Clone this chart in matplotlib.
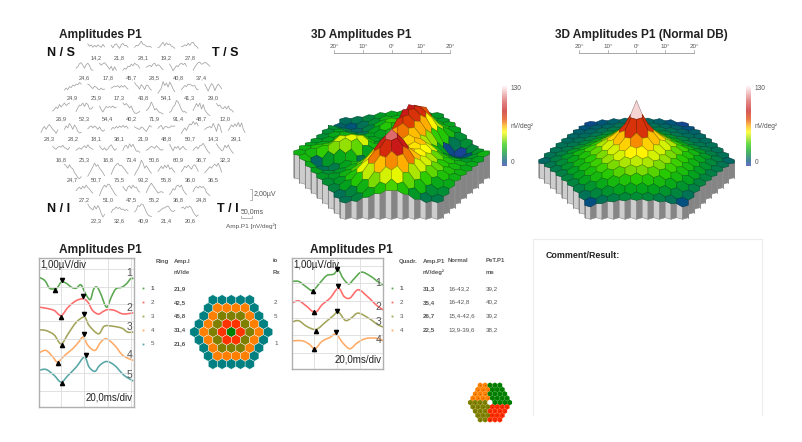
import numpy as np
import matplotlib
matplotlib.use('Agg')
import matplotlib.pyplot as plt
from matplotlib.collections import PolyCollection
from matplotlib.colors import LinearSegmentedColormap, to_rgb
from matplotlib.patches import PathPatch
from matplotlib.path import Path

plt.rcParams['font.family'] = ['Liberation Sans', 'DejaVu Sans']

# --- trace array: P1 amplitude labels, per row
amp_rows = [
    [14.2, 21.8, 28.1, 19.2, 27.8],
    [24.6, 17.8, 45.7, 28.5, 40.8, 37.4],
    [24.9, 25.9, 17.3, 43.8, 54.1, 41.3, 29.0],
    [26.9, 52.3, 54.4, 40.2, 71.9, 91.4, 48.7, 12.0],
    [28.3, 28.2, 18.1, 38.1, 21.9, 48.8, 50.7, 14.3, 29.1],
    [16.8, 25.3, 16.8, 73.4, 50.6, 60.9, 36.7, 32.3],
    [24.7, 50.7, 75.5, 93.2, 55.8, 36.0, 36.5],
    [27.2, 51.0, 47.5, 55.2, 36.8, 24.8],
    [22.3, 32.6, 40.9, 21.4, 20.6],
]

# small responses, uV, one row per stimulus hexagon, sampled every 8 ms
small_t = [0, 8, 16, 24, 32, 40, 48, 56, 64, 72, 80]
small_traces = [
    [0.6, 0.1, 0.4, -0.1, 0.3, 0.0, 0.4, 0.1, -0.1, 0.5, 0.0],
    [0.3, -0.2, 0.4, 0.6, 0.1, -0.3, 0.4, 0.7, 0.2, 0.3, -0.1],
    [-0.1, 0.3, 0.2, 0.6, 1.1, 0.5, 0.4, 0.1, 0.0, 0.1, -0.1],
    [-0.2, 0.0, 0.5, 0.9, 0.2, 0.8, 0.4, 0.6, 0.1, 0.0, -0.3],
    [0.0, 0.1, 0.4, 0.2, 0.7, 0.3, 0.8, 0.9, 0.3, 0.1, -0.3],

    [-0.2, 0.1, 0.7, 0.9, 0.4, -0.2, 0.5, 0.8, 0.3, -0.5, -0.6],
    [0.8, 0.4, 0.7, 0.9, 0.5, 0.1, -0.4, 0.2, -0.7, 0.1, -0.6],
    [-0.6, -0.2, -0.4, 0.2, 0.1, 0.6, 0.3, 0.8, 0.5, 0.4, -0.2],
    [0.0, 0.2, 0.4, 0.1, 0.6, 0.8, 0.2, 0.5, 0.3, -0.2, -0.5],
    [0.6, 0.0, -0.7, -0.2, 0.3, 0.1, 0.6, 0.8, 0.5, 0.8, 0.2],
    [-0.6, 0.0, 0.5, 0.9, 1.0, 0.6, 0.7, 1.0, 0.8, 0.5, 0.2],

    [-0.5, -0.1, -0.4, 0.2, 0.0, 0.5, 0.3, 0.7, 0.6, 1.0, 0.7],
    [0.7, 0.5, 0.1, -0.2, 0.3, 0.1, -0.3, -0.4, -0.1, -0.4, -0.3],
    [-0.1, 0.1, 0.3, 0.2, 0.4, 0.0, 0.4, 0.1, 0.4, 0.0, -0.3],
    [1.0, 0.5, 0.2, -0.3, 0.6, 0.2, -0.4, 0.5, 0.4, -0.2, -0.5],
    [-1.1, -0.6, -0.1, 1.2, 0.4, 0.9, 0.1, 1.1, 0.5, -0.3, -0.8],
    [-0.4, 0.0, 0.4, 0.2, 0.7, 0.6, 0.5, 0.3, 0.4, -0.3, -0.4],
    [0.7, 0.0, -0.7, 0.1, 0.8, 0.4, -0.6, 0.2, 0.7, 0.3, -0.2],

    [-0.6, -0.3, 0.2, -0.1, 0.7, 0.2, 0.6, 1.0, 0.5, 0.8, 1.0],
    [-0.7, 0.0, 0.6, 0.5, 1.0, 0.3, 1.0, 0.7, -0.2, -0.2, 0.2],
    [0.4, -0.3, -0.8, -0.2, 0.3, 0.1, 0.3, 0.1, 0.4, 0.0, 0.2],
    [1.0, 0.6, 0.9, 0.5, 0.0, 0.4, -0.5, -1.0, -1.1, -0.9, -0.7],
    [-0.5, -0.2, 0.3, 1.2, 0.5, -0.4, -0.1, -0.6, -0.9, -1.0, -1.2],
    [-0.9, -0.6, 0.2, 0.5, 1.5, 1.2, 0.5, -0.3, -0.8, -0.7, -1.0],
    [-0.5, 0.2, 0.9, 0.3, 1.0, -0.2, 0.7, -0.4, -0.9, -1.3, -1.5],
    [0.9, 0.4, 0.6, 0.0, -0.1, 0.3, -0.2, 0.4, -0.3, -0.4, -0.8],

    [-0.8, -0.1, 0.4, -0.2, 0.4, 0.8, 0.3, -0.2, -0.5, -1.0, -0.3],
    [-0.2, 0.5, 0.1, 1.0, 0.5, -0.2, 0.7, 0.2, -0.6, -0.9, -0.8],
    [-0.1, 0.3, 0.5, 0.1, 0.5, 0.2, -0.2, 0.3, -0.3, -0.6, -0.3],
    [-0.2, 0.2, 0.0, 0.4, 0.1, 0.5, 0.2, 0.6, 0.2, 0.5, 0.0],
    [0.3, 0.1, -0.1, -0.2, 0.3, 0.1, -0.3, -0.6, 0.0, 0.6, 0.3],
    [0.0, 0.4, 0.6, -0.2, 0.3, 0.4, 0.1, 0.2, 0.5, 0.4, 0.5],
    [-1.0, -0.4, 0.1, -0.4, 0.3, 0.9, 0.7, 1.4, 0.8, 1.2, 0.5],
    [-0.2, 0.1, 0.2, 0.4, 0.1, 1.0, 0.3, -0.6, 0.9, 0.5, -0.8],
    [-0.4, 0.1, 0.7, 0.3, 0.9, 0.4, 1.2, 0.3, 1.1, -0.2, -0.8],

    [0.5, 0.1, -0.1, 0.3, 0.5, 0.3, 0.7, 0.2, 0.1, -0.2, 0.3],
    [-0.3, 0.0, 0.2, -0.1, 0.3, 0.6, 0.2, 0.8, 0.3, 0.1, -0.1],
    [0.6, 0.1, -0.2, 0.2, -0.3, 0.0, 0.5, 0.8, 0.2, -0.3, 0.0],
    [-0.3, 0.5, 0.7, 0.1, 1.0, 0.4, 0.9, 0.2, -0.5, -0.4, -0.7],
    [-0.3, -0.1, 0.2, 0.5, 0.3, 0.1, 0.6, 0.3, -0.1, -0.3, -0.1],
    [0.9, 0.2, -0.4, 0.4, 0.1, 0.5, -0.2, 0.2, 0.5, 0.0, -0.2],
    [-0.3, 0.1, 0.4, 0.0, 0.6, 0.7, 1.1, 0.5, -0.1, -0.6, -0.9],
    [1.0, 0.4, 0.1, -0.4, -0.2, 0.7, 0.2, 0.8, 0.0, -0.5, -0.9],

    [1.0, 0.7, 0.2, 0.9, 0.3, 0.1, -0.7, -1.1, -1.7, -1.9, -1.5],
    [-1.4, -0.8, -0.2, 0.5, 1.2, 0.6, 0.9, 0.2, -0.2, -0.7, -1.3],
    [-1.0, -0.2, 0.5, 0.9, 1.2, 0.7, 0.8, 0.4, 0.0, -0.5, -0.9],
    [-1.2, -0.5, 0.0, 0.7, 1.8, 1.2, 0.2, 0.7, 0.2, -0.4, -0.8],
    [-0.4, 0.1, 0.6, 0.1, 0.8, 0.3, 0.9, 0.0, 0.3, -0.2, -0.6],
    [-0.5, 0.0, 0.6, 0.3, 0.8, 0.4, 0.0, 0.7, 0.9, 0.3, -0.4],
    [-0.7, -0.3, 0.1, 0.5, 0.2, 0.7, 1.0, 0.6, 1.2, 0.4, -0.6],

    [-0.2, 0.2, 0.5, 0.1, 0.7, 0.3, 0.9, 0.4, 0.1, -0.4, -0.7],
    [-1.2, -0.3, 0.4, 0.9, 0.5, 1.1, 1.0, 0.3, -0.2, -0.8, -1.2],
    [0.6, 0.1, -0.3, 0.5, 0.8, 0.2, 0.9, 0.4, 0.5, -0.2, -0.5],
    [-0.6, 0.2, 0.8, 1.3, 0.8, 0.3, -0.2, -0.7, -0.5, -0.4, -0.6],
    [-1.0, -0.5, 0.2, -0.1, 0.7, 0.9, 0.5, 0.9, -0.1, -0.6, -1.0],
    [-0.4, 0.3, 0.6, 0.3, 0.7, 0.4, 0.6, 0.2, -0.6, -0.9, -1.2],

    [1.2, 0.6, 0.3, 0.0, 0.8, 0.2, 0.9, 0.3, -0.7, -1.4, -0.9],
    [-0.5, 0.1, 0.2, 0.6, 0.3, 0.5, 0.1, 0.2, -0.1, 0.1, -0.1],
    [-0.4, 0.0, 0.9, 0.7, 1.2, 1.1, 0.4, -0.4, -1.0, -1.2, -1.3],
    [-0.4, -0.2, 0.1, 0.4, 0.4, 0.7, 0.8, 0.3, -0.2, -0.3, -0.1],
    [0.4, 0.6, 0.2, 0.7, 0.5, 0.8, 0.4, -0.4, -0.9, -1.3, -1.0],
]

# ring averages, ms / uV from the plot origin
ring_names = ['1', '2', '3', '4', '5']
ring_amp = ['21,9', '42,5', '45,8', '31,4', '21,6']
ring_t = [
    [0, 5, 9, 13, 16, 19, 23, 28, 32, 36, 40, 44, 47, 50, 53, 58, 62, 66, 71, 75, 79, 81],
    [0, 6, 13, 19, 25, 32, 38, 42, 46, 51, 55, 59, 65, 72, 81],
    [0, 6, 13, 19, 25, 32, 39, 43, 51, 56, 63, 71, 76, 81],
    [0, 6, 12, 16, 22, 29, 34, 38, 42, 48, 53, 58, 65, 72, 81],
    [0, 6, 13, 19, 25, 32, 39, 43, 48, 52, 58, 65, 73, 81],
]
ring_v = [
    [7.5, 7.31, 6.87, 6.83, 6.92, 7.21, 7.17, 6.92, 6.87, 7.06, 6.54, 6.21, 6.83, 6.92, 6.54, 5.77, 6.35, 6.83, 6.92, 7.12, 7.44, 7.4],
    [5.77, 5.71, 5.58, 5.29, 5.77, 6.15, 6.25, 6.06, 5.58, 5.37, 5.52, 5.63, 5.58, 5.38, 5.44],
    [4.46, 4.42, 4.17, 3.65, 4.23, 4.9, 5.19, 4.71, 4.23, 4.67, 4.67, 4.56, 4.33, 4.33],
    [3.13, 3.27, 2.88, 2.6, 2.98, 3.37, 3.75, 4.04, 3.56, 3.27, 3.75, 3.94, 3.56, 2.98, 2.69],
    [2.12, 2.17, 1.83, 1.44, 1.83, 2.31, 2.88, 2.31, 2.06, 2.4, 2.63, 2.4, 1.83, 1.5],
]
ring_trough = [(13.5, 6.75), (18.5, 5.2), (19.5, 3.6), (16.5, 2.55), (19.5, 1.4)]
ring_peak = [(19.5, 7.35), (37.5, 6.4), (39, 5.35), (39, 4.2), (40, 3.0)]
ring_other = ['', '2', '5', '', '1']

quad_names = ['1', '2', '3', '4']
quad_amp = ['31,3', '35,4', '26,7', '22,5']
quad_normal = ['16-43,2', '16-42,8', '15,4-42,6', '13,9-39,6']
quad_pet = ['39,2', '40,2', '39,2', '38,2']
quad_t = [
    [0, 6, 12, 18, 24, 30, 36, 40, 44, 49, 54, 60, 68, 75, 82.5],
    [0, 6, 12, 20, 26, 33, 40, 45, 50, 57, 65, 74, 82.5],
    [0, 6, 13, 21, 29, 35, 40, 46, 51, 57, 66, 75, 82.5],
    [0, 9, 15, 20, 26, 33, 38, 44, 50, 56, 63, 71, 77, 82.5],
]
quad_v = [
    [5.06, 5.06, 4.77, 4.54, 4.96, 5.4, 5.48, 5.73, 5.25, 4.92, 5.25, 5.6, 5.35, 5.0, 4.73],
    [3.81, 3.94, 3.67, 3.27, 3.71, 4.1, 4.67, 4.19, 4.1, 4.58, 4.19, 3.62, 3.27],
    [2.71, 2.79, 2.46, 2.29, 2.71, 3.04, 3.29, 2.81, 2.94, 3.23, 2.94, 2.52, 2.37],
    [1.63, 1.63, 1.44, 1.17, 1.6, 1.83, 2.02, 1.5, 1.17, 1.5, 1.75, 1.79, 1.69, 1.44],
]
quad_trough = [(18.5, 4.48), (19.5, 3.28), (20.5, 2.21), (19.5, 1.13)]
quad_peak = [(39, 5.77), (40, 4.77), (39, 3.37), (38, 2.12)]

# height of the 3D surfaces in nV/deg2, back row first
surf_left = [
    [13, 15, 18, 22, 25, 26, 27, 25, 22],
    [11, 9, 14, 20, 28, 27, 30, 28, 25, 22],
    [20, 15, 12, 17, 27, 36, 30, 46, 38, 28, 25],
    [20, 24, 18, 15, 24, 34, 30, 55, 65, 44, 30, 24],
    [20, 26, 28, 24, 24, 24, 28, 52, 78, 74, 46, 30, 20],
    [22, 24, 26, 30, 30, 24, 22, 46, 88, 82, 56, 34, 15, 20],
    [24, 26, 28, 36, 40, 34, 24, 46, 88, 80, 64, 36, 6, 4, 18],
    [28, 32, 36, 50, 52, 50, 30, 44, 80, 76, 64, 44, 24, 9, 8, 22],
    [28, 30, 36, 42, 44, 40, 24, 42, 66, 70, 62, 46, 30, 20, 18, 22, 28],
    [30, 12, 22, 26, 28, 15, 26, 40, 50, 60, 62, 50, 34, 26, 22, 24],
    [26, 14, 16, 24, 30, 38, 55, 62, 52, 58, 54, 40, 32, 28, 26],
    [24, 20, 22, 28, 40, 62, 85, 90, 62, 56, 46, 34, 30, 26],
    [22, 22, 28, 38, 56, 85, 107, 88, 62, 50, 40, 32, 28],
    [20, 22, 32, 52, 70, 82, 88, 70, 50, 40, 32, 28],
    [18, 24, 34, 48, 62, 68, 64, 46, 36, 26, 26],
    [14, 18, 28, 42, 50, 52, 40, 30, 20, 20],
    [15, 18, 26, 32, 38, 32, 22, 16, 16],
]
surf_normal = [
    [6, 9, 11, 12, 13, 12, 11, 9, 5],
    [9, 11, 12, 14, 15, 15, 14, 12, 11, 8],
    [11, 12, 14, 16, 18, 20, 18, 16, 14, 12, 11],
    [12, 13, 15, 18, 22, 26, 26, 22, 18, 15, 13, 12],
    [13, 14, 17, 21, 27, 34, 40, 34, 27, 21, 17, 14, 13],
    [14, 15, 18, 23, 30, 40, 50, 50, 40, 30, 23, 18, 15, 14],
    [14, 16, 20, 26, 34, 44, 56, 65, 56, 44, 34, 26, 20, 16, 14],
    [14, 17, 22, 28, 36, 46, 58, 80, 80, 58, 46, 36, 28, 22, 17, 14],
    [12, 17, 22, 29, 37, 46, 60, 80, 123, 80, 60, 46, 37, 29, 22, 17, 12],
    [15, 19, 25, 32, 40, 50, 62, 80, 80, 62, 50, 40, 32, 25, 19, 15],
    [16, 21, 28, 35, 42, 50, 60, 68, 60, 50, 42, 35, 28, 21, 16],
    [17, 23, 30, 37, 44, 50, 56, 56, 50, 44, 37, 30, 23, 17],
    [18, 24, 31, 37, 42, 46, 48, 46, 42, 37, 31, 24, 18],
    [18, 24, 30, 35, 39, 42, 42, 39, 35, 30, 24, 18],
    [17, 21, 26, 30, 33, 35, 33, 30, 26, 21, 17],
    [14, 18, 21, 24, 25, 25, 24, 21, 18, 14],
    [8, 14, 17, 19, 20, 19, 17, 14, 8],
]

scale_labels = ['20°', '10°', '0°', '10°', '20°']

ring_colors = ['#5aa84f', '#ff6a6a', '#a3a45a', '#ffab66', '#58a6a6']
ring_fill = ['#008000', '#ff3300', '#808000', '#ff8000', '#008080']
quad_fill = ['#008000', '#ff2a00', '#808000', '#ff8000']
TXT = '#555555'

cmap = LinearSegmentedColormap.from_list('mferg', [
    (0.00, '#2b3aa8'), (0.06, '#00507e'), (0.10, '#006e5a'), (0.18, '#00a020'),
    (0.27, '#28cc00'), (0.35, '#a8e400'), (0.42, '#ffff00'), (0.50, '#ffa800'),
    (0.58, '#e04000'), (0.68, '#c81818'), (0.80, '#d85858'), (0.90, '#eeaaaa'),
    (1.00, '#ffffff')])

fig = plt.figure(figsize=(8.03, 4.42), dpi=100)
# whole-figure axes, one unit is one pixel
ax = fig.add_axes([0, 0, 1, 1])
ax.set_xlim(0, 803)
ax.set_ylim(442, 0)
ax.axis('off')


def hexagon(x, y, w, r):
    return [(x, y - r), (x + w / 2, y - r / 2), (x + w / 2, y + r / 2),
            (x, y + r), (x - w / 2, y + r / 2), (x - w / 2, y - r / 2)]


def draw_surface(rows, cx, y0):
    w = 11.5
    dy = 5.0
    r = dy / 1.5
    k = 0.55
    base = 8.0
    corners = {}
    cells = []
    present = set()
    for i, row in enumerate(rows):
        for j, v in enumerate(row):
            x = cx + (j - (len(row) - 1) / 2) * w
            y = y0 + i * dy
            cells.append((x, y, v))
            present.add((round(x, 1), round(y, 1)))
            for p in hexagon(x, y, w, r):
                corners.setdefault((round(p[0], 1), round(p[1], 1)), []).append(v)

    polys, faces, edges = [], [], []
    for x, y, v in cells:
        pts = hexagon(x, y, w, r)
        top = []
        for p in pts:
            h = np.mean(corners[(round(p[0], 1), round(p[1], 1))])
            top.append((p[0], p[1] - base - k * h))
        # walls on the outside of the block
        sides = [(3, 4, (-w / 2, dy), '#cdcdcd'), (4, 5, (-w, 0), '#cdcdcd'),
                 (2, 3, (w / 2, dy), '#858585'), (1, 2, (w, 0), '#858585')]
        for a, b, off, col in sides:
            if (round(x + off[0], 1), round(y + off[1], 1)) not in present:
                polys.append([top[a], top[b], pts[b], pts[a]])
                faces.append(col)
                edges.append('#8a8a8a')
        apex = y - base - k * v
        if apex < top[0][1]:
            top[0] = (x, apex)
        col = cmap(v / 130)
        polys.append(top)
        faces.append(col)
        edges.append(tuple(np.array(to_rgb(col)) * 0.62))
    ax.add_collection(PolyCollection(polys, facecolors=faces, edgecolors=edges, linewidths=0.4))


def draw_scale(x0, x1, y):
    ax.plot([x0, x1], [y, y], color='#999999', lw=0.6)
    for lab, x in zip(scale_labels, np.linspace(x0, x1, 5)):
        ax.plot([x, x], [y - 3, y], color='#999999', lw=0.5)
        ax.text(x, y - 6.5, lab, ha='center', va='center', fontsize=4.5, color=TXT)


def draw_colorbar(x0, top, bottom):
    grad = np.linspace(1, 0, 256).reshape(-1, 1)
    ax.imshow(grad, cmap=cmap, extent=(x0, x0 + 5, bottom, top), aspect='auto', alpha=0.72, zorder=2)
    ax.text(x0 + 9, top + 3, '130', fontsize=4.8, color=TXT, va='center')
    ax.text(x0 + 9, top + 41, 'nV/deg²', fontsize=4.8, color=TXT, va='center')
    ax.text(x0 + 9, bottom - 3, '0', fontsize=4.8, color=TXT, va='center')


def smooth_line(pax, t, v, color):
    # bezier through the read points, so the line stays soft like the recording
    t = np.array(t, dtype=float)
    v = np.array(v, dtype=float)
    verts = [(t[0], v[0])]
    codes = [Path.MOVETO]
    for i in range(len(t) - 1):
        a = max(i - 1, 0)
        b = min(i + 2, len(t) - 1)
        verts.append((t[i] + (t[i + 1] - t[a]) / 6, v[i] + (v[i + 1] - v[a]) / 6))
        verts.append((t[i + 1] - (t[b] - t[i]) / 6, v[i + 1] - (v[b] - v[i]) / 6))
        verts.append((t[i + 1], v[i + 1]))
        codes += [Path.CURVE4, Path.CURVE4, Path.CURVE4]
    pax.add_patch(PathPatch(Path(verts, codes), fill=False, edgecolor=color, lw=1.15))


def trace_panel(box, names, ts, vs, trough, peak, colors, lab_y, left_lab, bottom_lab):
    x0, y0, x1, y1 = box
    pax = fig.add_axes([x0 / 803, 1 - y1 / 442, (x1 - x0) / 803, (y1 - y0) / 442])
    xmax = (x1 - x0) / 23.3 * 20
    ymax = (y1 - y0) / 17.3
    pax.set_xlim(0, xmax)
    pax.set_ylim(0, ymax)
    pax.set_xticks(np.arange(19, xmax, 20))
    pax.set_yticks(np.arange(0.95, ymax, 1))
    pax.grid(True, color='#dcdcdc', lw=0.6)
    pax.tick_params(length=0, labelbottom=False, labelleft=False)
    for s in pax.spines.values():
        s.set_color('#b0b0b0')
        s.set_linewidth(1.0)
    for i in range(len(names)):
        smooth_line(pax, ts[i], vs[i], colors[i])
        pax.plot(*trough[i], marker='^', color='black', ms=3, ls='none')
        pax.plot(*peak[i], marker='v', color='black', ms=3, ls='none')
        pax.text(xmax - 1.5, lab_y[i], names[i], ha='right', va='center', fontsize=7.5, color='#555555')
    pax.text(1, ymax - 0.1, left_lab, ha='left', va='top', fontsize=7, color='#222222')
    pax.text(xmax - 1, 0.25, bottom_lab, ha='right', va='bottom', fontsize=7, color='#222222')


# titles
for x, y, s in [(100.5, 35, 'Amplitudes P1'), (361, 35, '3D Amplitudes P1'),
                (641, 35, '3D Amplitudes P1 (Normal DB)'), (100.5, 250, 'Amplitudes P1'),
                (351.5, 250, 'Amplitudes P1')]:
    ax.text(x, y, s, ha='center', va='center', fontsize=8.6, fontweight='bold', color='#222222')
for x, y, s in [(61, 53, 'N / S'), (225, 53, 'T / S'), (59, 209, 'N / I'), (228, 209, 'T / I')]:
    ax.text(x, y, s, ha='center', va='center', fontsize=9, fontweight='bold', color='#111111')

# field of small responses
n = 0
for r, row in enumerate(amp_rows):
    for c, a in enumerate(row):
        x = 143 + (c - (len(row) - 1) / 2) * 23.4
        y = 57.3 + r * 20.4
        ax.plot(x + (np.array(small_t) - 40) * 0.21, y - 10.5 - np.array(small_traces[n]) * 5.0,
                color='#a2a2a2', lw=0.55)
        ax.text(x, y, f'{a:.1f}'.replace('.', ','), ha='center', va='center', fontsize=4.1, color=TXT)
        n += 1

ax.plot([250, 252, 252, 250], [189, 189, 200, 200], color='#999999', lw=0.5)
ax.text(253.5, 194.5, '2,00µV', fontsize=5, color=TXT, va='center')
ax.text(241, 212, '50,0ms', fontsize=5, color=TXT, va='center')
ax.plot([241, 241, 252.5, 252.5], [216, 218, 218, 216], color='#999999', lw=0.5)
ax.text(226, 226, 'Amp.P1 [nV/deg²]', fontsize=4.6, color=TXT, va='center')

# 3D panels
draw_surface(surf_left, 391.5, 136)
draw_surface(surf_normal, 636.5, 136)
draw_scale(334, 450, 53)
draw_scale(579, 694, 53)
draw_colorbar(502, 85, 166)
draw_colorbar(746, 85, 166)

# ring and quadrant traces
trace_panel((39, 258, 134, 407), ring_names, ring_t, ring_v, ring_trough, ring_peak, ring_colors,
            [7.75, 5.75, 4.6, 3.0, 1.85], '1,00µV/div', '20,0ms/div')
trace_panel((291.7, 258, 383, 369), quad_names, quad_t, quad_v, quad_trough, quad_peak, ring_colors,
            [5.0, 3.6, 2.7, 1.7], '1,00µV/div', '20,0ms/div')

# ring table
ax.text(156, 261, 'Ring', fontsize=4.3, color=TXT, fontweight='bold', va='center')
ax.text(174, 261, 'Amp.I', fontsize=4.3, color=TXT, fontweight='bold', va='center')
ax.text(174, 272, 'nV/de', fontsize=4.3, color=TXT, fontweight='bold', va='center')
ax.text(273, 261, 'io', fontsize=4.3, color=TXT, fontweight='bold', va='center')
ax.text(273, 272, 'Rx', fontsize=4.3, color=TXT, fontweight='bold', va='center')
for i in range(5):
    y = 288.3 + i * 13.9
    ax.plot(143, y, 's', ms=1.3, color=ring_colors[i], mew=0)
    ax.text(151, y, ring_names[i], fontsize=4.5, color=TXT, va='center', fontweight='bold' if i == 0 else 'normal')
    ax.text(174, y, ring_amp[i], fontsize=4.5, color=TXT, va='center', fontweight='bold')
    ax.text(274, y, ring_other[i], fontsize=4.5, color=TXT, va='center')

# quadrant table
for x, y, s in [(399, 261, 'Quadr.'), (423, 261, 'Amp.P1'), (423, 272, 'nV/deg²'), (448, 261, 'Normal'),
                (486, 261, 'PeT.P1'), (486, 272, 'ms')]:
    ax.text(x, y, s, fontsize=4.3, color=TXT, fontweight='bold', va='center')
for i in range(4):
    y = 288.3 + i * 13.9
    ax.plot(392, y, 's', ms=1.3, color=ring_colors[i], mew=0)
    ax.text(400, y, quad_names[i], fontsize=4.5, color=TXT, va='center', fontweight='bold' if i == 0 else 'normal')
    ax.text(423, y, quad_amp[i], fontsize=4.5, color=TXT, va='center', fontweight='bold')
    ax.text(448, y, quad_normal[i], fontsize=4.5, color=TXT, va='center')
    ax.text(486, y, quad_pet[i], fontsize=4.5, color=TXT, va='center')

# stimulus maps
ring_polys, ring_cols, quad_polys, quad_cols, qx, qy = [], [], [], [], [], []
for r, row in enumerate(amp_rows):
    for c in range(len(row)):
        off = c - (len(row) - 1) / 2
        dist = max(abs(r - 4), abs(off) + abs(r - 4) / 2)
        ring_polys.append(hexagon(231.3 + off * 9.2, 332 + (r - 4) * 8, 9.2, 5.3))
        ring_cols.append(ring_fill[int(round(dist))])
        if off < 0:
            q = 3 if r < 4 else 2
        elif off > 0:
            q = 0 if r <= 4 else 1
        else:
            q = 0 if r < 4 else 1
        quad_polys.append(hexagon(490 + off * 4.9, 402.5 + (r - 4) * 4.3, 4.9, 2.85))
        if r == 4 and off == 0:
            quad_cols.append('#ffffff')
        else:
            quad_cols.append(quad_fill[q])
            qx.append(490 + off * 4.9)
            qy.append(402.5 + (r - 4) * 4.3)
ax.add_collection(PolyCollection(ring_polys, facecolors=ring_cols, edgecolors='#ffffff', linewidths=0.25))
ax.add_collection(PolyCollection(quad_polys, facecolors=quad_cols, edgecolors='none'))
ax.plot(qx, qy, '.', ms=1.0, color='#3a2a00', mew=0, alpha=0.5)

# comment box
ax.plot([533, 533, 762, 762], [415, 238.5, 238.5, 415], color='#ececec', lw=0.8)
ax.text(546, 255, 'Comment/Result:', fontsize=6.4, fontweight='bold', color='#222222', va='center')

ax.set_xlim(0, 803)
ax.set_ylim(442, 0)
fig.savefig('out.png', dpi=100)
